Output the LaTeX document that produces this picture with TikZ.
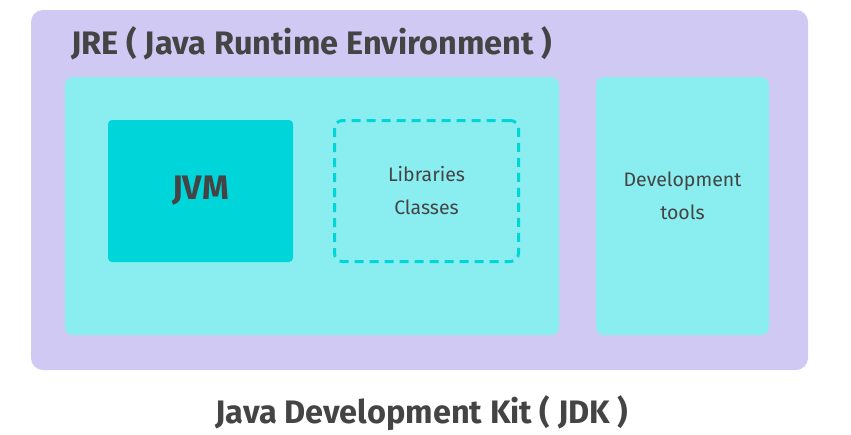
\documentclass[tikz,border=0pt]{standalone}
\usepackage{fontspec}
\setmainfont{Fira Sans}
\usepackage{xcolor}
\usetikzlibrary{positioning}
\definecolor{jdkfill}{HTML}{D0C9F4}
\definecolor{jrefill}{HTML}{8AEEF0}
\definecolor{jvmfill}{HTML}{00D5DA}
\definecolor{ink}{HTML}{444444}
\begin{document}
\begin{tikzpicture}[
  x=1pt, y=-1pt,
  text=ink,
  panel/.style={rounded corners=#1, inner sep=0pt, align=center},
  plain/.style={font=\fontsize{19.5}{33}\selectfont, align=center},
  head/.style={font=\fontsize{32.5}{36}\selectfont\bfseries}
]
  \useasboundingbox (0,0) rectangle (851,434);
  \node[panel=12pt, fill=jdkfill, minimum width=777pt, minimum height=360pt] (jdk) at (419.5,190) {};
  \node[panel=8pt, fill=jrefill, minimum width=494pt, minimum height=258pt] (jre) at (312,206) {};
  \node[panel=8pt, fill=jrefill, minimum width=173pt, minimum height=258pt] (dev) at (682.5,206) {};
  \node[panel=4pt, fill=jvmfill, minimum width=185pt, minimum height=142pt, head, font=\fontsize{34}{36}\selectfont\bfseries] (jvm) at (200.5,191) {JVM};
  \node[panel=8pt, draw=jvmfill, line width=3pt, dash pattern=on 9pt off 6pt,
        minimum width=184pt, minimum height=141pt, plain] (lib) at (426.5,191) {Libraries\\Classes};
  \node[plain] (devtxt) at ([yshift=10pt]dev.center) {Development\\tools};
  \node[head, anchor=base west] (jretitle) at (68,54) {JRE ( Java Runtime Environment )};
  \node[head, anchor=base] (jdktitle) at (422,423) {Java Development Kit ( JDK )};
\end{tikzpicture}
\end{document}
